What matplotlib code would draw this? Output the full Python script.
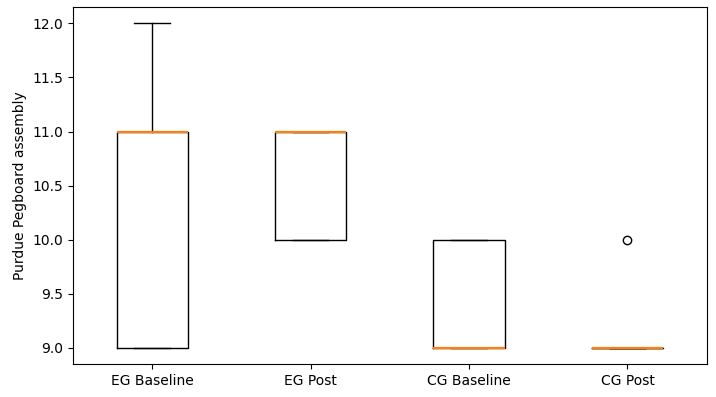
import matplotlib
matplotlib.use("Agg")
import matplotlib.pyplot as plt

labels = ["EG Baseline", "EG Post", "CG Baseline", "CG Post"]
eg_baseline = [9, 9, 11, 11, 12]
eg_post = [10, 10, 11, 11, 11]
cg_baseline = [9, 9, 9, 10, 10]
cg_post = [9, 9, 9, 9, 10]

fig, ax = plt.subplots(figsize=(7.16, 3.97), dpi=100)
fig.subplots_adjust(left=0.102, right=0.987, top=0.982, bottom=0.083)
ax.boxplot([eg_baseline, eg_post, cg_baseline, cg_post], widths=0.45,
           medianprops={"color": "#ff7f0e", "linewidth": 1.6, "zorder": 5})
ax.set_xticks([1, 2, 3, 4])
ax.set_xticklabels(labels)
ax.set_ylabel("Purdue Pegboard assembly")
fig.savefig("out.png")
